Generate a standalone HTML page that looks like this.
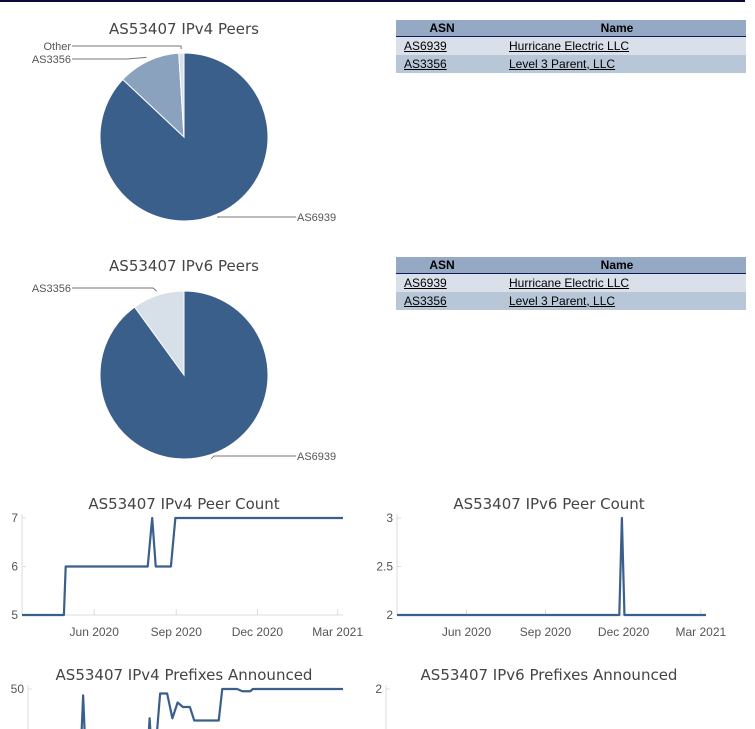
<!DOCTYPE html>
<html><head><meta charset="utf-8">
<style>
html,body{margin:0;width:755px;height:729px;overflow:hidden}
body{background:#fff;font-family:"Liberation Sans",sans-serif;position:relative}
#topbar{position:absolute;left:0;top:0;width:745px;height:2px;background:#0a0a3a}
table{position:absolute;left:396px;width:350px;border-collapse:collapse;font-size:12px}
th{background:#95a9c5;font-weight:bold;height:16px;padding:0;border-bottom:1px solid #0a1a5a;color:#000}
td{height:18px;padding:0 0 0 8px;color:#000}
td a{color:#000;text-decoration:underline}
tr.r1 td{background:#d9e0ea}
tr.r2 td{background:#b8c7d8}
svg{position:absolute;left:0;top:0;overflow:hidden}
</style></head><body>
<div id="topbar"></div>
<table style="top:20px">
<tr><th style="width:92px">ASN</th><th>Name</th></tr>
<tr class="r1"><td><a>AS6939</a></td><td style="padding-left:21px"><a>Hurricane Electric LLC</a></td></tr>
<tr class="r2"><td><a>AS3356</a></td><td style="padding-left:21px"><a>Level 3 Parent, LLC</a></td></tr>
</table>
<table style="top:257px">
<tr><th style="width:92px">ASN</th><th>Name</th></tr>
<tr class="r1"><td><a>AS6939</a></td><td style="padding-left:21px"><a>Hurricane Electric LLC</a></td></tr>
<tr class="r2"><td><a>AS3356</a></td><td style="padding-left:21px"><a>Level 3 Parent, LLC</a></td></tr>
</table>
<svg id="s" width="755" height="729" viewBox="0 0 755 729"><defs><clipPath id="cp"><rect x="0" y="0" width="755" height="729"/></clipPath></defs><g id="g" clip-path="url(#cp)"></g></svg>
<script>
// pie data
const pie4Labels=["AS6939","AS3356","Other"];
const pie4Values=[87,12,1];
const pie6Labels=["AS6939","AS3356"];
const pie6Values=[90,10];
// line data
const v4PeerDates=["2020-03-12","2020-04-28","2020-04-30","2020-07-31","2020-08-05","2020-08-09","2020-08-26","2020-08-31","2021-03-07"];
const v4PeerValues=[5,5,6,6,7,6,6,7,7];
const v6PeerDates=["2020-03-12","2020-11-26","2020-11-29","2020-12-02","2021-03-07"];
const v6PeerValues=[2,2,3,2,2];
const v4PfxDates=["2020-05-10","2020-05-14","2020-05-18","2020-07-25","2020-07-29","2020-08-02","2020-08-10","2020-08-18","2020-08-24","2020-08-30","2020-09-05","2020-09-13","2020-09-18","2020-10-16","2020-10-20","2020-11-06","2020-11-12","2020-11-21","2020-11-24","2021-03-07"];
const v4PfxValues=[30,48.6,30,30,43.5,30,49,49,43.5,47,46,46,43,43,50,50,49.5,49.5,50,50];
const xTickDates=["2020-06-01","2020-09-01","2020-12-01","2021-03-01"];
const xTickLabels=["Jun 2020","Sep 2020","Dec 2020","Mar 2021"];

const S=document.getElementById('g');const NS="http://www.w3.org/2000/svg";
function el(t,a,p){const e=document.createElementNS(NS,t);for(const k in a)e.setAttribute(k,a[k]);(p||S).appendChild(e);return e;}
function txt(x,y,s,a){const e=el('text',Object.assign({x:x,y:y,'font-size':12,fill:'#555','font-family':'Liberation Sans, sans-serif'},a||{}));e.textContent=s;return e;}
function title(x,y,s){const e=txt(x,y,s,{'font-size':15,fill:'#444','text-anchor':'middle','font-family':'DejaVu Sans, sans-serif'});

}

function pie(cx,cy,r,labels,values,colors,labelPos){
  const tot=values.reduce((a,b)=>a+b,0);let a0=0;
  values.forEach((v,i)=>{const a1=a0+v/tot*2*Math.PI;
    const p=(a)=>[cx+r*Math.sin(a),cy-r*Math.cos(a)];
    const [x0,y0]=p(a0),[x1,y1]=p(a1);
    const large=(a1-a0)>Math.PI?1:0;
    const s=el('path',{d:`M${cx},${cy}L${x0},${y0}A${r},${r} 0 ${large} 1 ${x1},${y1}Z`,fill:colors[i],stroke:'#fff','stroke-width':1});
    
    
    const am=(a0+a1)/2;const [ex,ey]=[cx+(r+4)*Math.sin(am),cy-(r+4)*Math.cos(am)];
    const lp=labelPos[i];
    const ln=el('polyline',{points:`${ex},${ey} ${lp[2]},${lp[1]} ${lp[3]},${lp[1]}`,fill:'none',stroke:'#777','stroke-width':1});
    
    
    const t=txt(lp[0],lp[1]+4,labels[i],{'font-size':11,'text-anchor':lp[4]});
    
    
    a0=a1;});
}
title(184,34,"AS53407 IPv4 Peers");
pie(184,137,84,pie4Labels,pie4Values,["#3a5f8a","#8aa2be","#d7dfe8"],
 [[297,217,218,296,'start'],[71,59,127,72,'end'],[71,46,181,72,'end']]);
title(184,271,"AS53407 IPv6 Peers");
pie(184,375,84,pie6Labels,pie6Values,["#3a5f8a","#d7dfe8"],
 [[297,456,214,296,'start'],[71,288,153,72,'end']]);

const D0=Date.parse("2020-03-12"),D1=Date.parse("2021-03-07");
function lineChart(o){
  const xs=d=>o.x0+(Date.parse(d)-D0)/(D1-D0)*(o.x1-o.x0);
  const ys=v=>o.yb+(v-o.vmin)/(o.vmax-o.vmin)*(o.yt-o.yb);
  title(o.tx,o.ty,o.title);
  const ax=el('line',{x1:o.x0,x2:o.x0,y1:o.yt-4,y2:Math.min(o.yb,729),stroke:'#ddd'});
  
  
  if(o.yb<729){const bx=el('line',{x1:o.x0,x2:o.x1,y1:o.yb,y2:o.yb,stroke:'#ddd'});
   
   
   xTickDates.forEach((d,i)=>{const x=xs(d);el('line',{x1:x,x2:x,y1:o.yb,y2:o.yb-6,stroke:'#ddd'});
    const t=txt(x,o.yb+21,xTickLabels[i],{'text-anchor':'middle'});
    
    });}
  o.yticks.forEach(v=>{const y=ys(v);el('line',{x1:o.x0,x2:o.x0+4,y1:y,y2:y,stroke:'#ddd'});
    const t=txt(o.x0-4,y+4,String(v),{'text-anchor':'end'});
    
    });
  if(o.dates){const pl=el('polyline',{points:o.dates.map((d,i)=>xs(d)+','+ys(o.vals[i])).join(' '),fill:'none',stroke:'#3a5f8a','stroke-width':2.2,'stroke-linejoin':'round'});
    
    }
}
lineChart({title:"AS53407 IPv4 Peer Count",tx:184,ty:509,x0:22,x1:343,yt:518,yb:615,vmin:5,vmax:7,yticks:[5,6,7],dates:v4PeerDates,vals:v4PeerValues});
lineChart({title:"AS53407 IPv6 Peer Count",tx:549,ty:509,x0:397,x1:706,yt:518,yb:615,vmin:2,vmax:3,yticks:[2,2.5,3],dates:v6PeerDates,vals:v6PeerValues});
lineChart({title:"AS53407 IPv4 Prefixes Announced",tx:184,ty:680,x0:28,x1:343,yt:689,yb:779,vmin:30,vmax:50,yticks:[50],dates:v4PfxDates,vals:v4PfxValues});
lineChart({title:"AS53407 IPv6 Prefixes Announced",tx:549,ty:680,x0:386,x1:706,yt:689,yb:789,vmin:1,vmax:2,yticks:[2]});
</script>
</body></html>
